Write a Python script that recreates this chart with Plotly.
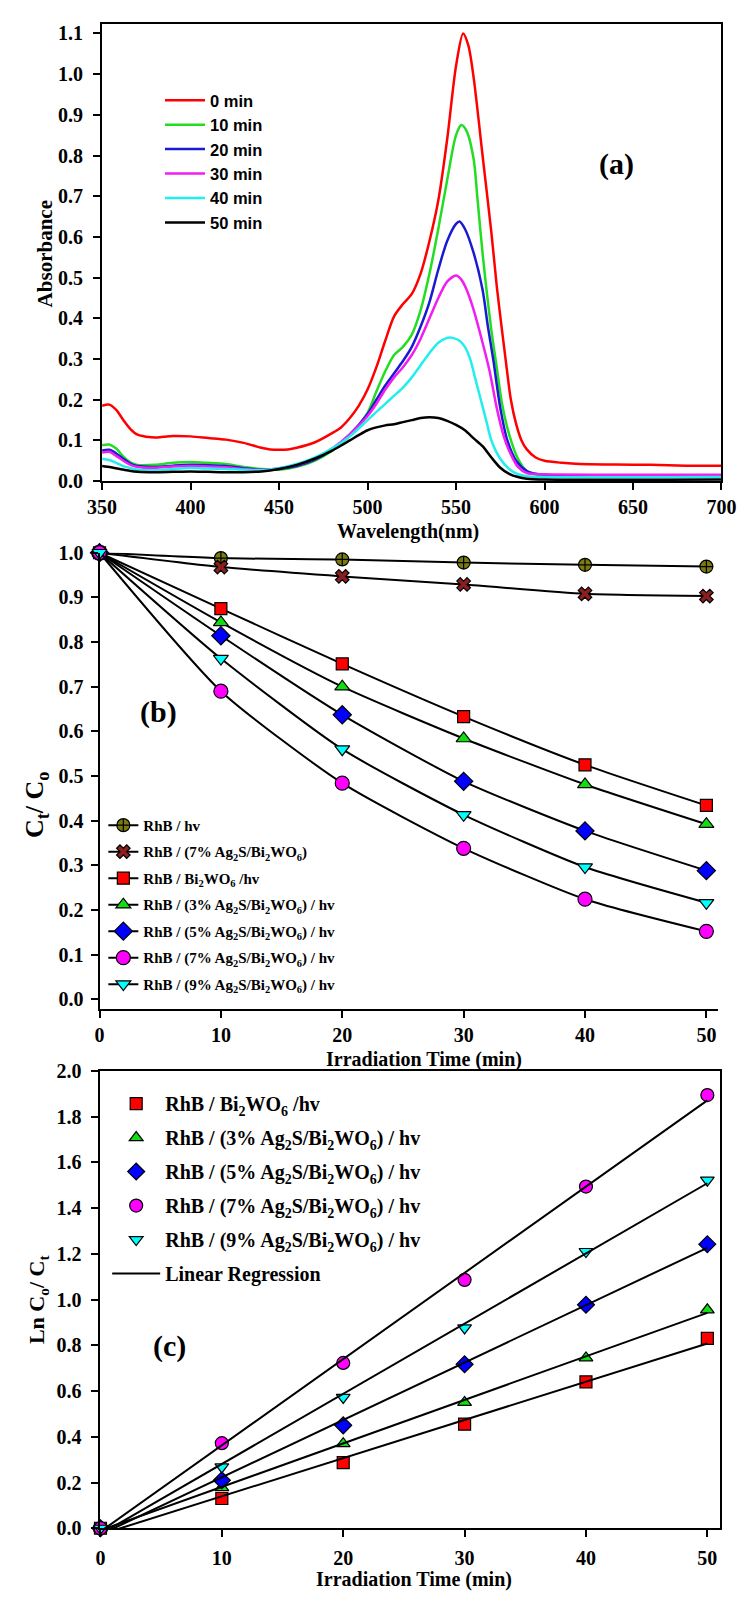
import numpy as np
import plotly.graph_objects as go

W, H = 755, 1601


def X(px):
    return px / W


def Y(py):
    return 1 - py / H


SERIF = "Liberation Serif"
SANS = "Liberation Sans"

# ---------------- Panel (a): UV-vis spectra ----------------
WL_0 = [350, 354, 358, 362, 366, 370, 375, 380, 385, 390, 400, 410, 420, 430, 440, 445, 450, 455, 460,
        470, 480, 485, 490, 495, 500, 505, 510, 515, 520, 525, 530, 535, 540, 545, 550, 554, 557,
        560, 565, 570, 573, 576, 578, 581, 584, 587, 590, 595, 600, 610, 620, 640, 660, 680, 700]
A_0 = [0.185, 0.188, 0.175, 0.150, 0.128, 0.114, 0.109, 0.107, 0.109, 0.111, 0.110, 0.106, 0.102, 0.094,
       0.082, 0.078, 0.077, 0.078, 0.082, 0.095, 0.118, 0.132, 0.155, 0.185, 0.225, 0.280, 0.345, 0.405,
       0.435, 0.460, 0.510, 0.590, 0.690, 0.840, 1.020, 1.100, 1.070, 0.990, 0.800, 0.610, 0.480, 0.370,
       0.300, 0.200, 0.140, 0.100, 0.078, 0.058, 0.050, 0.045, 0.042, 0.041, 0.040, 0.038, 0.038]

WL_10 = [350, 354, 358, 362, 366, 370, 380, 390, 400, 410, 420, 430, 440, 450, 460, 470, 480, 490, 500,
         505, 510, 515, 520, 525, 530, 535, 540, 545, 550, 553, 556, 560, 562, 565, 570, 573, 576, 580,
         585, 590, 595, 600, 620, 650, 700]
A_10 = [0.088, 0.090, 0.080, 0.060, 0.046, 0.040, 0.040, 0.045, 0.047, 0.045, 0.042, 0.035, 0.030, 0.028,
        0.035, 0.050, 0.075, 0.112, 0.168, 0.220, 0.270, 0.310, 0.330, 0.360, 0.420, 0.510, 0.620, 0.740,
        0.850, 0.875, 0.860, 0.790, 0.700, 0.560, 0.370, 0.280, 0.190, 0.115, 0.055, 0.025, 0.016, 0.014,
        0.013, 0.012, 0.012]

WL_20 = [350, 354, 358, 362, 366, 370, 380, 390, 400, 410, 420, 430, 440, 450, 460, 470, 480, 490, 500,
         505, 510, 515, 520, 525, 530, 535, 540, 545, 550, 552, 555, 560, 565, 568, 571, 575, 579, 584,
         590, 595, 600, 620, 700]
A_20 = [0.075, 0.077, 0.068, 0.055, 0.043, 0.037, 0.035, 0.038, 0.040, 0.039, 0.037, 0.032, 0.028, 0.030,
        0.037, 0.052, 0.078, 0.115, 0.165, 0.200, 0.235, 0.265, 0.295, 0.330, 0.380, 0.440, 0.520, 0.590,
        0.632, 0.638, 0.620, 0.560, 0.470, 0.380, 0.300, 0.180, 0.100, 0.050, 0.025, 0.018, 0.015, 0.013,
        0.012]

WL_30 = [350, 354, 358, 362, 366, 370, 380, 390, 400, 410, 420, 430, 440, 450, 460, 470, 480, 490, 500,
         505, 510, 515, 520, 525, 530, 535, 540, 545, 550, 553, 556, 560, 565, 569, 573, 577, 580, 585,
         590, 600, 650, 700]
A_30 = [0.070, 0.072, 0.062, 0.050, 0.040, 0.035, 0.033, 0.036, 0.037, 0.036, 0.034, 0.030, 0.028, 0.032,
        0.040, 0.055, 0.080, 0.115, 0.160, 0.190, 0.225, 0.255, 0.280, 0.310, 0.350, 0.400, 0.450, 0.490,
        0.505, 0.495, 0.470, 0.420, 0.340, 0.270, 0.180, 0.110, 0.075, 0.035, 0.020, 0.017, 0.016, 0.016]

WL_40 = [350, 354, 358, 362, 366, 370, 380, 390, 400, 410, 420, 430, 440, 450, 460, 470, 480, 490, 500,
         505, 510, 515, 520, 525, 530, 535, 540, 545, 548, 552, 555, 558, 561, 564, 567, 570, 575, 580,
         585, 590, 600, 700]
A_40 = [0.055, 0.052, 0.045, 0.037, 0.032, 0.028, 0.027, 0.030, 0.032, 0.031, 0.030, 0.028, 0.027, 0.032,
        0.042, 0.058, 0.080, 0.110, 0.150, 0.170, 0.190, 0.210, 0.230, 0.255, 0.285, 0.315, 0.340, 0.352,
        0.352, 0.345, 0.330, 0.300, 0.250, 0.200, 0.150, 0.100, 0.055, 0.030, 0.017, 0.012, 0.010, 0.010]

WL_50 = [350, 355, 360, 365, 370, 380, 390, 400, 410, 420, 430, 440, 450, 460, 470, 480, 490, 495, 500,
         505, 510, 515, 520, 525, 530, 535, 540, 545, 550, 555, 560, 565, 570, 575, 580, 585, 590, 600, 700]
A_50 = [0.037, 0.034, 0.030, 0.026, 0.023, 0.022, 0.023, 0.024, 0.023, 0.022, 0.022, 0.024, 0.030, 0.040,
        0.055, 0.075, 0.100, 0.113, 0.125, 0.132, 0.137, 0.140, 0.145, 0.150, 0.155, 0.157, 0.155, 0.148,
        0.138, 0.125, 0.105, 0.086, 0.058, 0.033, 0.018, 0.010, 0.006, 0.004, 0.004]

SPEC_LABELS = ["0 min", "10 min", "20 min", "30 min", "40 min", "50 min"]
SPEC_COLORS = ["#FF0000", "#22DD22", "#1A1AD2", "#F01EF0", "#22EEEE", "#000000"]

# ---------------- Panel (b): Ct/C0 vs time ----------------
TIME = [0, 10, 20, 30, 40, 50]
CC_RHB = [1.0, 0.988, 0.985, 0.978, 0.973, 0.969]
CC_7_DARK = [1.0, 0.968, 0.947, 0.929, 0.908, 0.903]
CC_BWO = [1.0, 0.875, 0.751, 0.633, 0.525, 0.434]
CC_3 = [1.0, 0.844, 0.700, 0.584, 0.481, 0.392]
CC_5 = [1.0, 0.814, 0.637, 0.488, 0.377, 0.288]
CC_7 = [1.0, 0.690, 0.484, 0.338, 0.224, 0.152]
CC_9 = [1.0, 0.763, 0.560, 0.413, 0.296, 0.216]

# ---------------- Panel (c): ln(C0/Ct) vs time ----------------
LN_BWO = [0.0, 0.130, 0.287, 0.455, 0.640, 0.830]
LN_3 = [0.0, 0.178, 0.370, 0.550, 0.745, 0.955]
LN_5 = [0.0, 0.210, 0.450, 0.717, 0.977, 1.242]
LN_7 = [0.0, 0.372, 0.723, 1.086, 1.494, 1.894]
LN_9 = [0.0, 0.268, 0.572, 0.876, 1.210, 1.522]

LBL_RHB = "RhB / hv"
LBL_7_DARK = "RhB / (7% Ag<sub>2</sub>S/Bi<sub>2</sub>WO<sub>6</sub>)"
LBL_BWO = "RhB / Bi<sub>2</sub>WO<sub>6</sub> /hv"
LBL_3 = "RhB / (3% Ag<sub>2</sub>S/Bi<sub>2</sub>WO<sub>6</sub>) / hv"
LBL_5 = "RhB / (5% Ag<sub>2</sub>S/Bi<sub>2</sub>WO<sub>6</sub>) / hv"
LBL_7 = "RhB / (7% Ag<sub>2</sub>S/Bi<sub>2</sub>WO<sub>6</sub>) / hv"
LBL_9 = "RhB / (9% Ag<sub>2</sub>S/Bi<sub>2</sub>WO<sub>6</sub>) / hv"

fig = go.Figure()

# ---- (a)
spectra = [(WL_0, A_0), (WL_10, A_10), (WL_20, A_20), (WL_30, A_30), (WL_40, A_40), (WL_50, A_50)]
for (wl, ab), lbl, col in zip(spectra, SPEC_LABELS, SPEC_COLORS):
    fig.add_trace(go.Scatter(x=wl, y=ab, mode="lines", name=lbl,
                             line=dict(color=col, width=2.5, shape="spline", smoothing=0.8),
                             xaxis="x", yaxis="y", legend="legend"))

# ---- (b)
b_series = [
    (CC_RHB, LBL_RHB, "circle-cross", "#7A7A10", 13),
    (CC_7_DARK, LBL_7_DARK, "x", "#8B1E1E", 12),
    (CC_BWO, LBL_BWO, "square", "#FF0000", 12),
    (CC_3, LBL_3, "triangle-up", "#11DD11", 13),
    (CC_5, LBL_5, "diamond", "#0000FF", 14),
    (CC_7, LBL_7, "circle", "#FF00FF", 14),
    (CC_9, LBL_9, "triangle-down", "#00FFFF", 13),
]
for i, (vals, lbl, sym, col, sz) in enumerate(b_series):
    fig.add_trace(go.Scatter(x=TIME, y=vals, mode="lines+markers", name=lbl,
                             line=dict(color="black", width=2, shape="spline", smoothing=0.6),
                             marker=dict(symbol=sym, color=col, size=sz,
                                         line=dict(color="black", width=1.2)),
                             cliponaxis=False, xaxis="x2", yaxis="y2", legend="legend2",
                             legendgroup="b%d" % i))

# ---- (c)
c_series = [
    (LN_BWO, LBL_BWO, "square", "#FF0000", 12),
    (LN_3, LBL_3, "triangle-up", "#11DD11", 12),
    (LN_5, LBL_5, "diamond", "#0000FF", 13),
    (LN_7, LBL_7, "circle", "#FF00FF", 13),
    (LN_9, LBL_9, "triangle-down", "#00FFFF", 12),
]
for i, (vals, lbl, sym, col, sz) in enumerate(c_series):
    fig.add_trace(go.Scatter(x=TIME, y=vals, mode="markers", name=lbl,
                             marker=dict(symbol=sym, color=col, size=sz,
                                         line=dict(color="black", width=1.2)),
                             cliponaxis=False, xaxis="x3", yaxis="y3", legend="legend3",
                             legendgroup="c%d" % i))
t_arr = np.array(TIME, dtype=float)
for i, (vals, lbl, sym, col, sz) in enumerate(c_series):
    slope, icpt = np.polyfit(t_arr, np.array(vals), 1)
    fig.add_trace(go.Scatter(x=[t_arr[0], t_arr[-1]], y=[icpt + slope * t_arr[0], icpt + slope * t_arr[-1]],
                             mode="lines", name="Linear Regression",
                             line=dict(color="black", width=2),
                             showlegend=(i == 0), cliponaxis=False,
                             xaxis="x3", yaxis="y3", legend="legend3", legendgroup="c_reg"))


def ax(**kw):
    d = dict(showline=True, linecolor="black", linewidth=2, ticks="outside", ticklen=7,
             tickwidth=2, tickcolor="black", showgrid=False, zeroline=False,
             tickfont=dict(family=SERIF, size=20, color="black", weight="bold"))
    d.update(kw)
    return d


fig.update_layout(
    width=W, height=H, margin=dict(l=0, r=0, t=0, b=0),
    paper_bgcolor="white", plot_bgcolor="white",
    xaxis=ax(domain=[X(90.7), X(735.7)], range=[350, 700], tickvals=list(range(350, 701, 50)),
             anchor="y", mirror=True, ticklabelstandoff=0),
    yaxis=ax(domain=[Y(476.7), Y(13.5)], range=[0, 1.1223],
             tickvals=[round(0.1 * k, 1) for k in range(12)], tickformat=".1f",
             anchor="x", mirror=True, ticklabelstandoff=6),
    xaxis2=ax(domain=[X(88), X(732)], range=[0, 50.95], tickvals=TIME,
              anchor="y2", ticklabelstandoff=0),
    yaxis2=ax(domain=[Y(1012.4), Y(549.3)], range=[-0.023, 1.0],
              tickvals=[round(0.1 * k, 1) for k in range(11)], tickformat=".1f",
              anchor="x2", ticklabelstandoff=3),
    xaxis3=ax(domain=[X(89), X(734)], range=[0, 51.03], tickvals=TIME,
              anchor="y3", mirror=True, ticklabelstandoff=4),
    yaxis3=ax(domain=[Y(1538.4), Y(1074.6)], range=[0, 2.0],
              tickvals=[round(0.2 * k, 1) for k in range(11)], tickformat=".1f",
              anchor="x3", mirror=True, ticklabelstandoff=6),
    legend=dict(x=X(151), y=Y(73), xanchor="left", yanchor="top", bgcolor="rgba(0,0,0,0)",
                itemwidth=40,
                font=dict(family=SANS, size=16.5, color="black", weight="bold")),
    legend2=dict(x=X(92), y=Y(809), xanchor="left", yanchor="top", bgcolor="rgba(0,0,0,0)",
                 font=dict(family=SERIF, size=15, color="black", weight="bold"),
                 traceorder="grouped", tracegroupgap=4),
    legend3=dict(x=X(96), y=Y(1088), xanchor="left", yanchor="top", bgcolor="rgba(0,0,0,0)",
                 itemwidth=48,
                 font=dict(family=SERIF, size=20, color="black", weight="bold"),
                 traceorder="grouped", tracegroupgap=5),
    showlegend=True,
)

ann_font = dict(family=SERIF, color="black", weight="bold")
annotations = [
    dict(text="Absorbance", x=X(31), y=Y(246), textangle=-90, font=dict(size=21, **ann_font)),
    dict(text="Wavelength(nm)", x=X(409), y=Y(528), font=dict(size=20, **ann_font)),
    dict(text="C<sub>t</sub>/ C<sub>o</sub>", x=X(22), y=Y(805), textangle=-90, font=dict(size=26, **ann_font)),
    dict(text="Irradiation Time (min)", x=X(426), y=Y(1063), font=dict(size=20, **ann_font)),
    dict(text="Ln C<sub>o</sub>/ C<sub>t</sub>", x=X(24), y=Y(1306), textangle=-90, font=dict(size=22, **ann_font)),
    dict(text="Irradiation Time (min)", x=X(416), y=Y(1590), font=dict(size=20, **ann_font)),
    dict(text="(a)", x=X(626), y=Y(155), font=dict(size=30, **ann_font)),
    dict(text="(b)", x=X(149), y=Y(711), font=dict(size=30, **ann_font)),
    dict(text="(c)", x=X(161), y=Y(1354), font=dict(size=30, **ann_font)),
]
for a in annotations:
    a.update(xref="paper", yref="paper", showarrow=False, xanchor="center", yanchor="middle")
fig.update_layout(annotations=annotations)

fig.write_html("out.html")
